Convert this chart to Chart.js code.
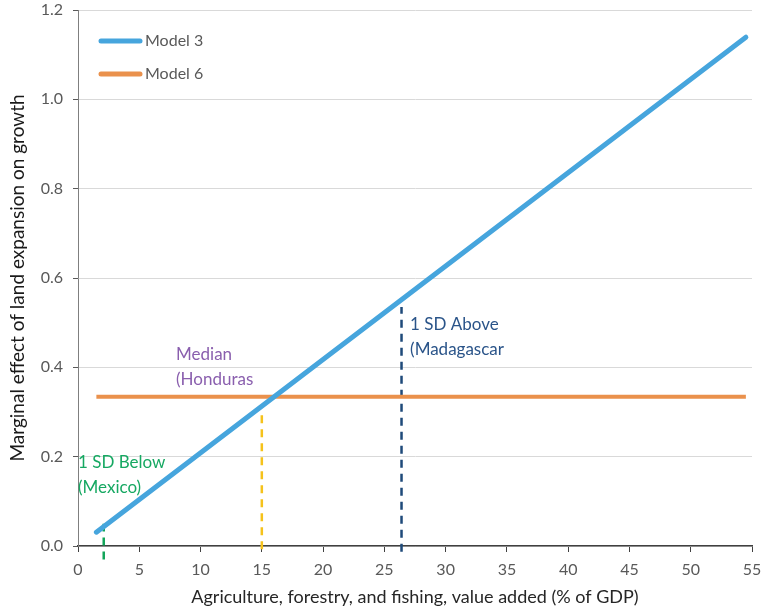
<!DOCTYPE html>
<html><head><meta charset="utf-8">
<script src="https://cdn.jsdelivr.net/npm/chart.js@4/dist/chart.umd.min.js"></script>
<style>html,body{margin:0;padding:0;background:#fff}#wrap{width:761px;height:614px}</style>
</head><body><div id="wrap"><canvas id="c" width="761" height="614"></canvas></div>
<script>
const seriesNames = ["Model 3", "Model 6"];
const model3X = [1.5, 54.5];
const model3Y = [0.031, 1.139];
const model6X = [1.5, 54.5];
const model6Y = [0.334, 0.334];
const refNames = ["1 SD Below", "Median", "1 SD Above"];
const refCountries = ["(Mexico)", "(Honduras", "(Madagascar"];
const refX = [2.1, 15, 26.4];
const refYLow = [-0.03, -0.007, -0.013];
const refYHigh = [0.05, 0.3, 0.535];
const refLabelX = [0, 8, 27.1];
const refLabelY = [0.188, 0.428, 0.495];
const xTicks = [0, 5, 10, 15, 20, 25, 30, 35, 40, 45, 50, 55];
const yTicks = [0, 0.2, 0.4, 0.6, 0.8, 1.0, 1.2];

const FONT = "Lato";
const refColors = ["#12a55a", "#f5c21b", "#1f4a7a"];
const refTextColors = ["#16a862", "#8a5fae", "#2a5489"];
const seriesColors = ["#46a5dd", "#ea914c"];

const datasets = [
  {label: seriesNames[0], data: model3X.map((x,i)=>({x, y: model3Y[i]})), borderColor: seriesColors[0], borderWidth: 5, borderCapStyle: 'round', pointRadius: 0, showLine: true, order: 0},
  {label: seriesNames[1], data: model6X.map((x,i)=>({x, y: model6Y[i]})), borderColor: seriesColors[1], borderWidth: 4, borderCapStyle: 'butt', pointRadius: 0, showLine: true, order: 1}
];
refX.forEach((x,i)=>{
  datasets.push({label: refNames[i], data: [{x, y: refYLow[i]}, {x, y: refYHigh[i]}], borderColor: refColors[i], borderWidth: 2.5, borderDash: [8,6], pointRadius: 0, showLine: true, clip: false, order: 2});
});

const overlay = {
  id: 'overlay',
  afterDatasetsDraw(chart) {
    const ctx = chart.ctx, xs = chart.scales.x, ys = chart.scales.y;
    ctx.save();
    ctx.textBaseline = 'middle';
    ctx.textAlign = 'left';
    ctx.font = "17px " + FONT;
    refNames.forEach((n,i)=>{
      const px = xs.getPixelForValue(refLabelX[i]), py = ys.getPixelForValue(refLabelY[i]);
      ctx.fillStyle = refTextColors[i];
      ctx.fillText(n, px, py);
      ctx.fillText(refCountries[i], px, py + 25);
    });
    // legend
    ctx.font = "16px " + FONT;
    seriesNames.forEach((n,i)=>{
      const y = 41 + i*33;
      ctx.strokeStyle = seriesColors[i];
      ctx.lineWidth = 5; ctx.lineCap = 'round';
      ctx.beginPath(); ctx.moveTo(101, y); ctx.lineTo(140, y); ctx.stroke();
      ctx.fillStyle = '#595959';
      ctx.fillText(n, 145, y);
    });
    ctx.restore();
  }
};

new Chart(document.getElementById('c'), {
  type: 'scatter',
  data: {datasets},
  options: {
    responsive: false, animation: false,
    layout: {padding: {left: 0, right: 9, top: 10, bottom: 0}},
    plugins: {legend: {display: false}, tooltip: {enabled: false}},
    scales: {
      x: {
        type: 'linear', min: 0, max: 55,
        afterBuildTicks: s => { s.ticks = xTicks.map(v=>({value: v})); },
        afterFit: s => { s.height = 68; s.paddingLeft = 0; s.paddingRight = 0; },
        ticks: {font: {family: FONT, size: 16}, color: '#595959', padding: 8, callback: v => String(v)},
        grid: {drawOnChartArea: false, drawTicks: true, tickLength: 6, tickColor: '#404040'},
        border: {color: '#404040', width: 1.5},
        title: {display: true, text: 'Agriculture, forestry, and fishing, value added (% of GDP)', font: {family: FONT, size: 18}, color: '#262626', padding: {top: 4, bottom: 6}}
      },
      y: {
        type: 'linear', min: 0, max: 1.2,
        afterBuildTicks: s => { s.ticks = yTicks.map(v=>({value: v})); },
        afterFit: s => { s.width = 78; s.paddingTop = 0; s.paddingBottom = 0; },
        ticks: {font: {family: FONT, size: 16}, color: '#595959', padding: 10, callback: v => v.toFixed(1)},
        grid: {color: '#d9d9d9', lineWidth: 1, drawTicks: true, tickLength: 5, tickColor: '#595959'},
        border: {color: '#7f7f7f', width: 1},
        title: {display: true, text: 'Marginal effect of land expansion on growth', font: {family: FONT, size: 19}, color: '#1a1a1a', padding: {top: 6, bottom: 0}}
      }
    }
  },
  plugins: [overlay]
});
</script></body></html>
